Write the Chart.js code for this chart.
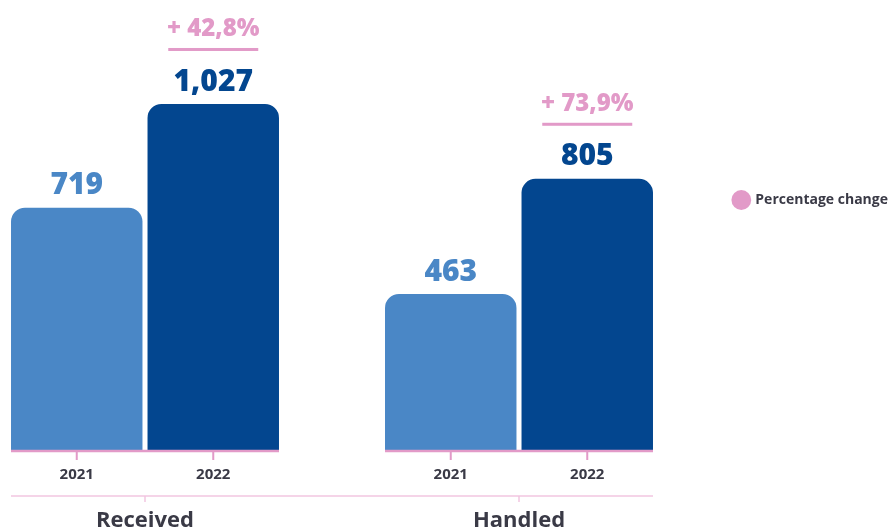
<!DOCTYPE html>
<html>
<head>
<meta charset="utf-8">
<script src="https://cdn.jsdelivr.net/npm/chart.js@4.4.1/dist/chart.umd.min.js"></script>
<style>
html, body { margin: 0; padding: 0; background: #fff; }
#wrap { width: 891px; height: 532px; }
</style>
</head>
<body>
<div id="wrap"><canvas id="chart"></canvas></div>
<script>
// Data
var groups = ['Received', 'Handled'];
var years = ['2021', '2022'];
var values2021 = [719, 463];
var values2022 = [1027, 805];
var percentChange = [42.8, 73.9];
var yMax = 1300;

// Colours
var blueLight = '#4a87c6';
var blueDark = '#03468f';
var pink = '#e29ac8';
var pinkLight = '#f2c6e1';
var textColor = '#3a3a46';
var fontName = '"Open Sans", sans-serif';

var canvas = document.getElementById('chart');

// labels, year ticks and the pink axis lines
var labelPlugin = {
  id: 'labelPlugin',
  afterDatasetsDraw: function(chart) {
    var ctx = chart.ctx;
    var base = chart.chartArea.bottom;
    var xScale = chart.scales.x;
    var m0 = chart.getDatasetMeta(0);
    var m1 = chart.getDatasetMeta(1);

    ctx.save();
    ctx.textAlign = 'center';
    ctx.textBaseline = 'middle';

    // lower line across both groups
    var first = m0.data[0];
    var last = m1.data[m1.data.length - 1];
    ctx.strokeStyle = pinkLight;
    ctx.lineWidth = 1.5;
    ctx.beginPath();
    ctx.moveTo(first.x - first.width / 2, base + 46);
    ctx.lineTo(last.x + last.width / 2, base + 46);
    groups.forEach(function(g, i) {
      var cx = xScale.getPixelForValue(i);
      ctx.moveTo(cx, base + 46);
      ctx.lineTo(cx, base + 52);
    });
    ctx.stroke();

    groups.forEach(function(g, i) {
      var b0 = m0.data[i];
      var b1 = m1.data[i];

      // axis line under the group + ticks
      ctx.strokeStyle = pink;
      ctx.lineWidth = 2.5;
      ctx.beginPath();
      ctx.moveTo(b0.x - b0.width / 2, base + 1);
      ctx.lineTo(b1.x + b1.width / 2, base + 1);
      ctx.stroke();
      ctx.lineWidth = 2;
      ctx.beginPath();
      ctx.moveTo(b0.x, base + 1);
      ctx.lineTo(b0.x, base + 10);
      ctx.moveTo(b1.x, base + 1);
      ctx.lineTo(b1.x, base + 10);
      ctx.stroke();

      // years
      ctx.fillStyle = textColor;
      ctx.font = 'bold 15px ' + fontName;
      ctx.fillText(years[0], b0.x, base + 25);
      ctx.fillText(years[1], b1.x, base + 25);

      // values
      ctx.font = '800 30px ' + fontName;
      ctx.fillStyle = blueLight;
      ctx.fillText(values2021[i].toLocaleString('en-US'), b0.x, b0.y - 22);
      ctx.fillStyle = blueDark;
      ctx.fillText(values2022[i].toLocaleString('en-US'), b1.x, b1.y - 22);

      // percentage change
      ctx.font = '800 24px ' + fontName;
      ctx.fillStyle = pink;
      var txt = '+ ' + percentChange[i].toFixed(1).replace('.', ',') + '%';
      ctx.fillText(txt, b1.x, b1.y - 75);
      ctx.fillRect(b1.x - 45, b1.y - 56, 90, 3);
    });
    ctx.restore();
  }
};

var myChart = new Chart(canvas, {
  type: 'bar',
  data: {
    labels: groups,
    datasets: [{
      label: years[0],
      data: values2021,
      backgroundColor: blueLight,
      borderRadius: 14,
      categoryPercentage: 0.73,
      barPercentage: 0.963,
      clip: false
    }, {
      label: years[1],
      data: values2022,
      backgroundColor: blueDark,
      borderRadius: 14,
      categoryPercentage: 0.73,
      barPercentage: 0.963,
      clip: false
    }, {
      type: 'line',
      label: 'Percentage change',
      data: percentChange,
      yAxisID: 'yR',
      showLine: false,
      pointRadius: 0,
      borderWidth: 0,
      backgroundColor: pink,
      borderColor: pink
    }]
  },
  options: {
    responsive: true,
    maintainAspectRatio: false,
    animation: false,
    devicePixelRatio: 1,
    layout: {
      padding: { top: 12, right: -7, bottom: 0, left: 0 }
    },
    plugins: {
      tooltip: { enabled: false },
      legend: {
        position: 'right',
        align: 'start',
        maxWidth: 240,
        title: {
          display: true,
          text: '',
          font: { size: 10, lineHeight: 1 },
          padding: { top: 167, bottom: 0 }
        },
        labels: {
          usePointStyle: true,
          pointStyle: 'circle',
          boxWidth: 14,
          boxHeight: 14,
          padding: 4,
          color: textColor,
          font: { family: fontName, size: 14, weight: 'bold' },
          filter: function(item) { return item.text === 'Percentage change'; }
        }
      }
    },
    scales: {
      x: {
        offset: false,
        grid: { display: false, drawTicks: false },
        border: { display: false },
        ticks: {
          color: textColor,
          padding: 58,
          font: { family: fontName, size: 22, weight: 'bold' }
        },
        afterFit: function(s) { s.height = 82; }
      },
      y: {
        min: 0,
        max: yMax,
        grid: { display: false },
        border: { display: false },
        ticks: { display: false },
        afterFit: function(s) { s.width = 145; }
      },
      yR: {
        position: 'right',
        grid: { display: false },
        border: { display: false },
        ticks: { display: false },
        afterFit: function(s) {
          s.width = s.chart.width + 7 - 519 - s.chart.legend.width;
        }
      }
    }
  },
  plugins: [labelPlugin]
});
</script>
</body>
</html>
